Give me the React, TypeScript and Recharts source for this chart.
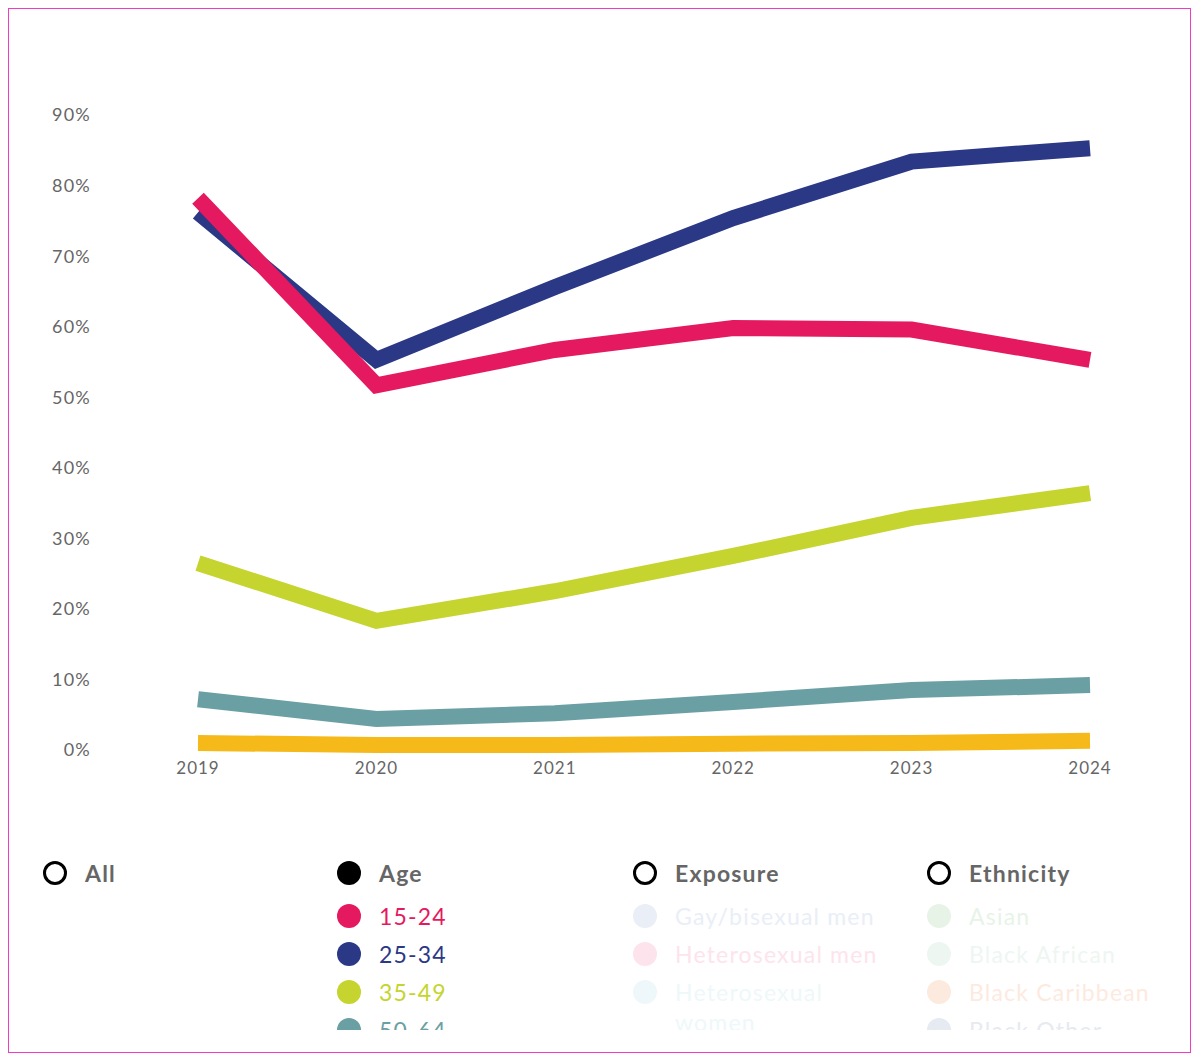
import React from 'react';
import { LineChart, Line, XAxis, YAxis } from 'recharts';

const years = ['2019', '2020', '2021', '2022', '2023', '2024'];
const age15to24 = [78.2, 51.7, 56.7, 59.8, 59.6, 55.3];
const age25to34 = [76.2, 55.3, 65.6, 75.4, 83.4, 85.3];
const age35to49 = [26.5, 18.3, 22.5, 27.5, 32.9, 36.4];
const age50to64 = [7.2, 4.4, 5.2, 6.8, 8.5, 9.2];
const age65plus = [1.0, 0.7, 0.7, 0.9, 1.0, 1.3];
const yTicks = [0, 10, 20, 30, 40, 50, 60, 70, 80, 90];

const seriesNames = ['15-24', '25-34', '35-49', '50-64', '65+'];
const seriesColors = ['#e5195f', '#2b3886', '#c5d42e', '#6a9fa4', '#f6b91a'];

const exposureItems = ['Gay/bisexual men', 'Heterosexual men', 'Heterosexual women'];
const exposureColors = ['#e9eef7', '#fde4ec', '#eef8fa'];
const ethnicityItems = ['Asian', 'Black African', 'Black Caribbean', 'Black Other'];
const ethnicityColors = ['#e8f3e8', '#eef6f2', '#fdeadf', '#e6eaf1'];

const data = years.map((y, i) => ({
  year: y,
  a: age15to24[i],
  b: age25to34[i],
  c: age35to49[i],
  d: age50to64[i],
  e: age65plus[i],
}));

const FONT = 'Lato, "Noto Sans", sans-serif';
const rowY = [864, 907, 945, 983, 1021];

function Dot({ color, hollow }: { color: string; hollow?: boolean }) {
  return (
    <div
      style={{
        width: hollow ? 18 : 24,
        height: hollow ? 18 : 24,
        borderRadius: '50%',
        background: hollow ? '#fff' : color,
        border: hollow ? `3px solid ${color}` : 'none',
        position: 'absolute',
        left: -12,
        top: -12,
      }}
    />
  );
}

function Row({ cx, cy, color, text, textColor, bold, hollow }: any) {
  return (
    <div style={{ position: 'absolute', left: cx, top: cy }}>
      <Dot color={color} hollow={hollow} />
      <div
        style={{
          position: 'absolute',
          left: 30,
          top: -15,
          lineHeight: '30px',
          fontSize: 23,
          letterSpacing: 1.2,
          fontWeight: bold ? 700 : 400,
          color: textColor,
          whiteSpace: 'nowrap',
          fontFamily: FONT,
        }}
      >
        {text}
      </div>
    </div>
  );
}

export default function App() {
  const colX = [46, 340, 636, 930];
  return (
    <div
      style={{
        position: 'relative',
        width: 1183,
        height: 1045,
        border: '1px solid #f03cc0',
        boxSizing: 'border-box',
        background: '#fff',
        fontFamily: FONT,
      }}
    >
      <div style={{ position: 'absolute', left: 0, top: 0 }}>
        <LineChart
          width={1170}
          height={800}
          data={data}
          margin={{ top: 106, right: 89, left: 0, bottom: 29 }}
        >
          <XAxis
            dataKey="year"
            axisLine={false}
            tickLine={false}
            tickSize={0}
            tickMargin={12}
            height={30}
            interval={0}
            padding={{ left: 0, right: 0 }}
            tick={{ fill: '#666', fontSize: 17, fontFamily: FONT, letterSpacing: 1 }}
          />
          <YAxis
            width={189}
            domain={[0, 90]}
            ticks={yTicks}
            axisLine={false}
            tickLine={false}
            tickSize={0}
            tickMargin={107}
            tickFormatter={(v: number) => `${v}%`}
            tick={{ fill: '#666', fontSize: 18, fontFamily: FONT, letterSpacing: 1.2 }}
          />
          <Line dataKey="e" name={seriesNames[4]} stroke={seriesColors[4]} strokeWidth={16} dot={false} activeDot={false} isAnimationActive={false} strokeLinejoin="miter" />
          <Line dataKey="d" name={seriesNames[3]} stroke={seriesColors[3]} strokeWidth={16} dot={false} activeDot={false} isAnimationActive={false} strokeLinejoin="miter" />
          <Line dataKey="c" name={seriesNames[2]} stroke={seriesColors[2]} strokeWidth={16} dot={false} activeDot={false} isAnimationActive={false} strokeLinejoin="miter" />
          <Line dataKey="b" name={seriesNames[1]} stroke={seriesColors[1]} strokeWidth={16} dot={false} activeDot={false} isAnimationActive={false} strokeLinejoin="miter" />
          <Line dataKey="a" name={seriesNames[0]} stroke={seriesColors[0]} strokeWidth={16} dot={false} activeDot={false} isAnimationActive={false} strokeLinejoin="miter" />
        </LineChart>
      </div>

      <div
        style={{
          position: 'absolute',
          left: 0,
          top: 830,
          width: 1181,
          height: 191,
          overflow: 'hidden',
        }}
      >
        <div style={{ position: 'absolute', left: 0, top: -830 }}>
          <Row cx={colX[0]} cy={rowY[0]} color="#000" hollow text="All" textColor="#666" bold />
          <Row cx={colX[1]} cy={rowY[0]} color="#000" text="Age" textColor="#666" bold />
          <Row cx={colX[2]} cy={rowY[0]} color="#000" hollow text="Exposure" textColor="#666" bold />
          <Row cx={colX[3]} cy={rowY[0]} color="#000" hollow text="Ethnicity" textColor="#666" bold />

          {seriesNames.map((n, i) => (
            <Row key={n} cx={colX[1]} cy={rowY[0] + 43 + i * 38} color={seriesColors[i]} text={n} textColor={seriesColors[i]} />
          ))}

          {exposureItems.map((n, i) => (
            <div key={n}>
              {n === 'Heterosexual women' ? (
                <Row
                  cx={colX[2]}
                  cy={rowY[0] + 43 + i * 38}
                  color={exposureColors[i]}
                  text={<span>Heterosexual<br />women</span>}
                  textColor={exposureColors[i]}
                />
              ) : (
                <Row cx={colX[2]} cy={rowY[0] + 43 + i * 38} color={exposureColors[i]} text={n} textColor={exposureColors[i]} />
              )}
            </div>
          ))}

          {ethnicityItems.map((n, i) => (
            <Row key={n} cx={colX[3]} cy={rowY[0] + 43 + i * 38} color={ethnicityColors[i]} text={n} textColor={ethnicityColors[i]} />
          ))}
        </div>
      </div>
    </div>
  );
}
